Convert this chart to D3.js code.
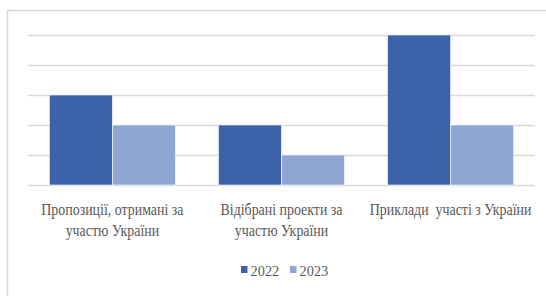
<!DOCTYPE html>
<html>
<head>
<meta charset="utf-8">
<script src="https://cdn.jsdelivr.net/npm/d3@7"></script>
<style>
  body { margin: 0; background: #fff; }
  svg { display: block; }
</style>
</head>
<body>
<div id="chart"></div>
<script>
// data
var categories = [
    ["Пропозиції, отримані за", "участю України"],
    ["Відібрані проекти за", "участю України"],
    ["Приклади  участі з України"]
];
var seriesNames = ["2022", "2023"];
var values2022 = [3, 2, 5];
var values2023 = [2, 1, 2];
var yTicks = [0, 1, 2, 3, 4, 5];

var colors = ["#3c63aa", "#8fa5d4"];
var FONT = "'Liberation Serif', 'Times New Roman', serif";

var W = 546, H = 296;
var m = { left: 28, right: 11, top: 35, bottom: 111 };

var svg = d3.select("#chart").append("svg")
    .attr("width", W)
    .attr("height", H);

// chart area border (right and bottom run off the picture)
svg.append("rect")
    .attr("x", 7.5).attr("y", 10.5)
    .attr("width", 560).attr("height", 300)
    .attr("fill", "none")
    .attr("stroke", "#d9d9d9")
    .attr("stroke-width", 1.5);

var x0 = d3.scaleBand()
    .domain(d3.range(categories.length))
    .range([m.left, W - m.right])
    .paddingInner(0.254)
    .paddingOuter(0.126);

var x1 = d3.scaleBand()
    .domain(seriesNames)
    .range([0, x0.bandwidth()]);

var y = d3.scaleLinear()
    .domain([0, 5])
    .range([H - m.bottom, m.top]);

// gridlines
var yAxis = d3.axisLeft(y)
    .tickValues(yTicks)
    .tickSize(-(W - m.right - m.left))
    .tickFormat("");

var g = svg.append("g")
    .attr("transform", "translate(" + m.left + ",0)")
    .call(yAxis);
g.select(".domain").remove();
g.selectAll(".tick line")
    .attr("stroke", "#d9d9d9")
    .attr("stroke-width", 1.5);

var rows = categories.map(function (c, i) {
    return [values2022[i], values2023[i]];
});

var groups = svg.selectAll(".grp")
    .data(rows)
    .enter().append("g")
    .attr("class", "grp")
    .attr("transform", function (d, i) { return "translate(" + x0(i) + ",0)"; });

groups.selectAll("rect")
    .data(function (d) { return d.map(function (v, j) { return { k: seriesNames[j], v: v, j: j }; }); })
    .enter().append("rect")
    .attr("x", function (d) { return x1(d.k); })
    .attr("y", function (d) { return y(d.v); })
    .attr("width", x1.bandwidth())
    .attr("height", function (d) { return y(0) - y(d.v); })
    .attr("fill", function (d) { return colors[d.j]; })
    .attr("stroke", "#fff")
    .attr("stroke-width", 0.6);

// category labels (text in the picture is a little squeezed sideways)
var labels = svg.selectAll(".lbl")
    .data(categories)
    .enter().append("text")
    .attr("class", "lbl")
    .attr("text-anchor", "middle")
    .style("font-family", FONT)
    .style("font-size", "16px")
    .attr("fill", "#595959")
    .attr("transform", function (d, i) {
        return "translate(" + (x0(i) + x0.bandwidth() / 2) + "," + (H - m.bottom + 30) + ") scale(0.87,1)";
    });

labels.selectAll("tspan")
    .data(function (d) { return d; })
    .enter().append("tspan")
    .attr("x", 0)
    .attr("dy", function (d, i) { return i === 0 ? 0 : 21.5; })
    .style("white-space", "pre")
    .text(function (d) { return d; });

// legend
var legend = svg.append("g")
    .attr("transform", "translate(241,270)");

var items = legend.selectAll("g")
    .data(seriesNames)
    .enter().append("g")
    .attr("transform", function (d, i) { return "translate(" + (i * 49) + ",0)"; });

items.append("rect")
    .attr("x", 0).attr("y", -4)
    .attr("width", 6.5).attr("height", 7)
    .attr("fill", function (d, i) { return colors[i]; });

items.append("text")
    .attr("transform", "translate(9.5,5.5) scale(0.93,1)")
    .style("font-family", FONT)
    .style("font-size", "15.5px")
    .attr("fill", "#595959")
    .text(function (d) { return d; });
</script>
</body>
</html>
